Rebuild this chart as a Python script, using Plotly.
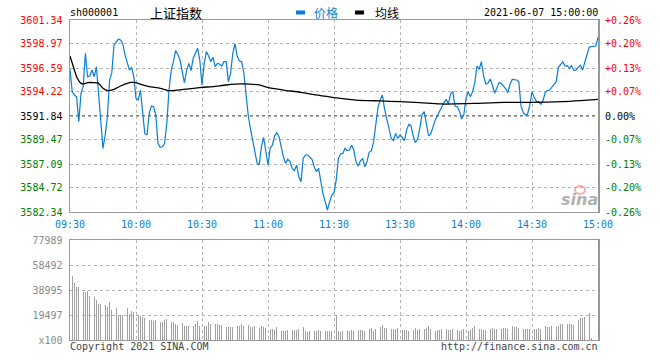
import plotly.graph_objects as go

# ---------------- data ----------------
SYMBOL = "sh000001"
NAME = "上证指数"
DATETIME = "2021-06-07 15:00:00"
SERIES_NAMES = ["价格", "均线"]
PREV_CLOSE = 3591.84

PRICE_TICKS = [3582.34, 3584.72, 3587.09, 3589.47, 3591.84, 3594.22, 3596.59, 3598.97, 3601.34]
PCT_LABELS = ["-0.26%", "-0.20%", "-0.13%", "-0.07%", "0.00%", "+0.07%", "+0.13%", "+0.20%", "+0.26%"]

TIME_TICK_MIN = [0, 30, 60, 90, 120, 150, 180, 210, 240]
TIME_LABELS = ["09:30", "10:00", "10:30", "11:00", "11:30", "13:30", "14:00", "14:30", "15:00"]

VOL_TICKS = [0, 19497, 38995, 58492, 77989]
VOL_LABELS = ["x100", "19497", "38995", "58492", "77989"]

# one price per trading minute (09:30-11:30, 13:01-15:00)
PRICE = [
    3596.46, 3594.25, 3593.92, 3593.75, 3591.28, 3594.08, 3594.74, 3598.04, 3595.73, 3595.80,
    3596.39, 3595.73, 3596.72, 3593.75, 3591.44, 3588.64, 3589.96, 3591.77, 3595.40, 3596.13,
    3598.87, 3599.20, 3599.43, 3599.36, 3598.97, 3597.88, 3597.05, 3596.39, 3596.66, 3595.73,
    3593.59, 3593.42, 3594.41, 3591.94, 3590.12, 3589.96, 3592.10, 3592.83, 3592.76, 3591.94,
    3589.13, 3588.74, 3588.80, 3589.13, 3591.11, 3594.41, 3596.33, 3597.22, 3598.31, 3597.95,
    3597.38, 3596.23, 3595.14, 3596.33, 3597.05, 3596.33, 3597.55, 3598.04, 3598.54, 3597.38,
    3594.91, 3597.05, 3598.21, 3597.78, 3597.22, 3597.65, 3596.72, 3597.05, 3596.99, 3596.79,
    3597.22, 3597.22, 3595.24, 3596.06, 3598.04, 3598.97, 3597.78, 3597.29, 3597.22, 3596.13,
    3593.75, 3591.94, 3590.62, 3589.46, 3588.14, 3587.22, 3586.99, 3588.80, 3589.73, 3588.31,
    3586.99, 3588.64, 3588.97, 3589.86, 3590.19, 3589.79, 3588.74, 3587.81, 3587.15, 3587.55,
    3587.32, 3586.66, 3586.43, 3586.99, 3585.83, 3585.34, 3587.65, 3587.98, 3587.98, 3587.81,
    3587.55, 3586.82, 3586.33, 3586.66, 3585.17, 3584.12, 3583.36, 3582.53, 3583.36, 3584.02,
    3584.25, 3585.50, 3587.65, 3588.08, 3588.14, 3588.64, 3588.41, 3588.47, 3588.94, 3588.47,
    3587.32, 3586.89, 3587.38, 3587.65, 3586.82, 3587.32, 3588.24, 3588.41, 3589.30, 3591.28,
    3592.70, 3593.42, 3593.92, 3592.50, 3591.44, 3590.55, 3589.63, 3589.40, 3590.12, 3589.63,
    3589.96, 3589.73, 3589.40, 3590.45, 3591.01, 3590.88, 3589.86, 3589.20, 3589.53, 3590.62,
    3591.94, 3592.27, 3590.85, 3589.86, 3590.06, 3590.85, 3591.44, 3591.87, 3592.37, 3592.76,
    3593.16, 3593.49, 3593.03, 3594.02, 3594.25, 3592.83, 3592.76, 3592.34, 3591.54, 3591.94,
    3593.59, 3594.22, 3593.75, 3594.25, 3595.14, 3596.79, 3596.46, 3597.22, 3595.80, 3595.01,
    3595.07, 3595.50, 3594.91, 3594.08, 3594.58, 3595.14, 3595.07, 3594.81, 3594.55, 3594.15,
    3594.98, 3595.47, 3595.47, 3595.40, 3595.24, 3592.83, 3592.20, 3591.94, 3592.04, 3592.93,
    3594.25, 3593.66, 3593.29, 3593.26, 3593.00, 3593.36, 3594.18, 3594.35, 3594.41, 3594.71,
    3594.91, 3595.24, 3596.66, 3596.99, 3597.19, 3596.79, 3596.82, 3596.56, 3596.82, 3596.33,
    3596.39, 3596.66, 3596.86, 3596.39, 3597.22, 3597.98, 3598.67, 3598.70, 3598.70, 3598.77,
    3599.63,
]

# average-price line, read at selected minutes
AVG_MIN = [0, 2, 3, 5, 6, 8, 11, 13, 15, 17, 20, 23, 26, 28, 30, 33, 36, 41, 45, 48, 56, 60,
           65, 71, 78, 86, 90, 97, 105, 112, 120, 130, 141, 150, 159, 168, 175, 184, 197, 209,
           224, 232, 240]
AVG_PRICE = [3597.78, 3596.39, 3595.73, 3595.07, 3595.01, 3595.14, 3595.14, 3595.07, 3594.58,
             3594.35, 3594.48, 3594.81, 3595.07, 3595.17, 3595.14, 3594.91, 3594.74, 3594.58,
             3594.35, 3594.38, 3594.58, 3594.68, 3594.74, 3594.91, 3595.01, 3594.91, 3594.64,
             3594.41, 3594.18, 3593.92, 3593.66, 3593.42, 3593.33, 3593.26, 3593.16, 3593.03,
             3593.03, 3593.09, 3593.19, 3593.19, 3593.26, 3593.36, 3593.49]

# volume per minute (x100)
VOLUME = [
    77989, 50200, 44700, 41600, 41600, 41600, 37700, 37700, 38500, 34600,
    37200, 33800, 31200, 28100, 28100, 28100, 27300, 26000, 29400, 23400,
    23400, 25200, 19500, 19500, 19500, 20800, 24700, 20000, 22600, 21600,
    22100, 19500, 19000, 18200, 17400, 16900, 15600, 15600, 14800, 15600,
    16900, 14300, 14300, 15600, 16100, 13000, 13800, 14300, 12200, 11700,
    12200, 13000, 11200, 11200, 11200, 11200, 11200, 12200, 15100, 11200,
    11200, 11200, 11200, 14300, 12200, 11200, 12500, 12200, 11700, 11700,
    11200, 10400, 10400, 10400, 10400, 12200, 11200, 11200, 12200, 11200,
    11200, 11700, 10400, 9900, 10900, 9100, 9100, 10900, 9900, 9100,
    10400, 8600, 8600, 7800, 9900, 10400, 7000, 7000, 7000, 7800,
    8300, 7800, 7800, 7800, 8600, 9600, 10400, 7000, 6500, 7000,
    7000, 7000, 7000, 7800, 7000, 7800, 7000, 7000, 7000, 7000,
    6500, 19500, 7000, 6500, 7000, 7000, 7000, 7000, 7800, 7000,
    8300, 7800, 7800, 7800, 7000, 8300, 8600, 9100, 7000, 8600,
    9100, 10400, 11700, 9100, 9600, 9100, 8300, 8300, 8300, 9100,
    10400, 7800, 7800, 7800, 7000, 7800, 7800, 9100, 7800, 8300,
    9100, 8600, 9600, 11200, 8300, 8300, 7000, 7800, 7800, 8600,
    8600, 8600, 7800, 7800, 8600, 7800, 7800, 7000, 7800, 8600,
    9100, 7000, 7800, 9600, 10900, 9100, 8300, 8300, 7800, 7800,
    8300, 8300, 9100, 8600, 8600, 9100, 8600, 9100, 9100, 8600,
    8300, 11200, 9900, 10400, 9100, 10400, 8600, 8600, 8600, 8600,
    9100, 8600, 8600, 9100, 8600, 10400, 10900, 10400, 10400, 10900,
    10400, 10400, 11200, 12200, 12200, 12500, 12500, 12200, 12500, 11700,
    15600, 15600, 16900, 17400, 18200, 20000, 20800, 1300, 0, 0,
    0,
]

MINUTES = list(range(len(PRICE)))

# ---------------- style ----------------
W, H = 660, 360
ML, MR, MT, MB = 70, 62, 20, 20
PW, PH = W - ML - MR, H - MT - MB
MONO = "DejaVu Sans Mono, Liberation Mono, monospace"
CJK = "Noto Sans CJK SC, sans-serif"
BLUE = "#0a7fd2"
RED = "#ff0000"
GREEN = "#008000"
GRID = "#b4b4b4"
FRAME = "#999999"


def px_x(px):
    return (px - ML) / PW


def px_y(py):
    return (H - MB - py) / PH


def colour_for(v):
    if abs(v - PREV_CLOSE) < 1e-6:
        return "#000000"
    return RED if v > PREV_CLOSE else GREEN


left_text = [f'<span style="color:{colour_for(v)}">{v:.2f}</span>' for v in PRICE_TICKS]
right_text = [f'<span style="color:{colour_for(v)}">{t}</span>' for v, t in zip(PRICE_TICKS, PCT_LABELS)]

fig = go.Figure()

fig.add_trace(go.Bar(x=MINUTES, y=VOLUME, xaxis="x2", yaxis="y3",
                     marker=dict(color="#a0a0a0", line=dict(width=0)),
                     width=0.42, showlegend=False, hoverinfo="skip"))
fig.add_trace(go.Scatter(x=MINUTES, y=PRICE, mode="lines", name=SERIES_NAMES[0],
                         line=dict(color=BLUE, width=1.2), showlegend=False))
fig.add_trace(go.Scatter(x=AVG_MIN, y=AVG_PRICE, mode="lines", name=SERIES_NAMES[1],
                         line=dict(color="#000000", width=1.3, shape="spline", smoothing=0.6),
                         showlegend=False))
# helper trace so the right axis is drawn
fig.add_trace(go.Scatter(x=[MINUTES[0]], y=[PREV_CLOSE], yaxis="y2", mode="markers",
                         marker=dict(opacity=0), showlegend=False, hoverinfo="skip"))

y_range = [PRICE_TICKS[0], PRICE_TICKS[-1]]
price_dom = [px_y(212), 1.0]
vol_dom = [0.0, px_y(240)]

fig.update_layout(
    width=W, height=H,
    margin=dict(l=ML, r=MR, t=MT, b=MB, autoexpand=False),
    paper_bgcolor="white", plot_bgcolor="white",
    font=dict(family=MONO, size=10, color="#000"),
    bargap=0,
    hovermode=False,
    xaxis=dict(domain=[0, 1], range=[0, 240], anchor="y",
               tickmode="array", tickvals=TIME_TICK_MIN, ticktext=TIME_LABELS,
               tickfont=dict(color=BLUE, size=10, family=MONO),
               ticks="outside", ticklen=3, tickcolor="rgba(0,0,0,0)",
               showgrid=True, gridcolor=GRID, griddash="dot", gridwidth=1,
               showline=True, linecolor=FRAME, linewidth=1, mirror=True, zeroline=False),
    xaxis2=dict(domain=[0, 1], range=[0, 240], anchor="y3", matches="x",
                tickmode="array", tickvals=TIME_TICK_MIN, showticklabels=False, ticks="",
                showgrid=True, gridcolor=GRID, griddash="dot", gridwidth=1,
                showline=True, linecolor=FRAME, linewidth=1, mirror=True, zeroline=False),
    yaxis=dict(domain=price_dom, range=y_range, anchor="x",
               tickmode="array", tickvals=PRICE_TICKS, ticktext=left_text,
               ticks="outside", ticklen=4, tickcolor="rgba(0,0,0,0)",
               tickfont=dict(size=10, family=MONO),
               showgrid=True, gridcolor=GRID, griddash="dot", gridwidth=1,
               showline=True, linecolor=FRAME, linewidth=1.5, mirror=True, zeroline=False),
    yaxis2=dict(overlaying="y", side="right", range=y_range, anchor="x",
                tickmode="array", tickvals=PRICE_TICKS, ticktext=right_text,
                ticks="outside", ticklen=4, tickcolor="rgba(0,0,0,0)",
                tickfont=dict(size=10, family=MONO),
                showgrid=False, showline=False, zeroline=False),
    yaxis3=dict(domain=vol_dom, range=[0, VOL_TICKS[-1]], anchor="x2",
                tickmode="array", tickvals=VOL_TICKS, ticktext=VOL_LABELS,
                ticks="outside", ticklen=4, tickcolor="rgba(0,0,0,0)",
                tickfont=dict(size=10, family=MONO, color="#8a8a8a"),
                showgrid=True, gridcolor=GRID, griddash="dot", gridwidth=1,
                showline=True, linecolor=FRAME, linewidth=1.5, mirror=True, zeroline=False),
)

# previous close dashed line
fig.add_shape(type="line", xref="x", yref="y", x0=0, x1=240, y0=PREV_CLOSE, y1=PREV_CLOSE,
              line=dict(color="#000", width=1, dash="3px,3px"), layer="below")

# legend swatches
fig.add_shape(type="rect", xref="paper", yref="paper", x0=px_x(296), x1=px_x(305),
              y0=px_y(14.5), y1=px_y(10.5), fillcolor=BLUE, line=dict(width=0))
fig.add_shape(type="rect", xref="paper", yref="paper", x0=px_x(355), x1=px_x(364),
              y0=px_y(14.5), y1=px_y(10.5), fillcolor="#000", line=dict(width=0))

ann = [
    dict(text=SYMBOL, x=px_x(69), y=px_y(13), xanchor="left", font=dict(family=MONO, size=10, color="#000")),
    dict(text=NAME, x=px_x(149), y=px_y(12), xanchor="left", font=dict(family=CJK, size=13, color="#000")),
    dict(text=SERIES_NAMES[0], x=px_x(313), y=px_y(12), xanchor="left", font=dict(family=CJK, size=12, color=BLUE)),
    dict(text=SERIES_NAMES[1], x=px_x(374), y=px_y(12), xanchor="left", font=dict(family=CJK, size=12, color="#000")),
    dict(text=DATETIME, x=px_x(599), y=px_y(13), xanchor="right", font=dict(family=MONO, size=10, color="#000")),
    dict(text="Copyright 2021 SINA.COM", x=px_x(69), y=px_y(346), xanchor="left",
         font=dict(family=MONO, size=10, color="#444")),
    dict(text="http://finance.sina.com.cn", x=px_x(599), y=px_y(346), xanchor="right",
         font=dict(family=MONO, size=10, color="#444")),
    dict(text="<b><i>sina</i></b>", x=px_x(599), y=px_y(199), xanchor="right",
         font=dict(family="DejaVu Sans, sans-serif", size=16, color="rgba(150,150,150,0.75)")),
]
for a in ann:
    a.update(xref="paper", yref="paper", yanchor="middle", showarrow=False, borderpad=0)
    fig.add_annotation(**a)

# small logo ring above watermark
fig.add_shape(type="circle", xref="paper", yref="paper", x0=px_x(575), x1=px_x(585),
              y0=px_y(194), y1=px_y(186), line=dict(color="rgba(235,120,120,0.6)", width=2))

fig.write_html("out.html", config={"displayModeBar": False, "staticPlot": True},
               post_script="document.body.style.margin='0';document.body.style.overflow='hidden';")
